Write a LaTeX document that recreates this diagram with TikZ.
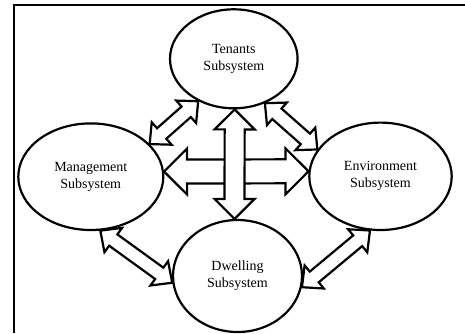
\documentclass[tikz,border=0pt]{standalone}
\usepackage{fontspec}
\setmainfont{Liberation Serif}
\usetikzlibrary{shapes.geometric,calc}
\tikzset{
  sub/.style={ellipse, draw, line width=2.2pt, inner sep=0pt, align=center,
    font=\fontsize{14}{17}\selectfont},
  arrowbox/.style={draw, fill=white, line width=2.2pt, line join=miter}
}
% #1 start, #2 end, #3 shaft width, #4 head width, #5 head length
\newcommand{\fatarr}[5]{%
  \path let \p1=(#1), \p2=(#2), \n1={atan2(\y2-\y1,\x2-\x1)}, \n2={veclen(\x2-\x1,\y2-\y1)} in
    \pgfextra{\xdef\fatang{\n1}\xdef\fatlen{\n2}};
  \draw[arrowbox, shift={(#1)}, rotate=\fatang]
    (0,0) -- (#5,#4/2) -- (#5,#3/2) -- (\fatlen-#5,#3/2) -- (\fatlen-#5,#4/2)
    -- (\fatlen,0) -- (\fatlen-#5,-#4/2) -- (\fatlen-#5,-#3/2) -- (#5,-#3/2)
    -- (#5,-#4/2) -- cycle;
}
\begin{document}
\begin{tikzpicture}[x=1pt,y=1pt]
\useasboundingbox (0,0) rectangle (465,-333);
\draw[line width=1.8pt] (14.2,-333) -- (14.2,-5) -- (465,-5);
\node[sub, minimum width=127.6pt, minimum height=99pt] (ten) at (233.8,-58.8) {Tenants\\Subsystem};
\node[sub, minimum width=145pt, minimum height=106.6pt] (man) at (90.8,-176.7) {Management\\Subsystem};
\node[sub, minimum width=142.4pt, minimum height=107.4pt] (env) at (380.5,-176.3) {Environment\\Subsystem};
\node[sub, minimum width=129pt, minimum height=112pt] (dwe) at (237.5,-276) {Dwelling\\Subsystem};
\fatarr{man.4}{env.176}{24}{46}{23}
\fatarr{ten.271}{dwe.93}{20}{40}{20}
\fatarr{man.29}{ten.230}{14}{30}{16}
\fatarr{ten.305}{env.157}{14}{30}{16}
\fatarr{man.280}{dwe.186}{14}{30}{16}
\fatarr{env.259}{dwe.350}{14}{30}{16}
\end{tikzpicture}
\end{document}
